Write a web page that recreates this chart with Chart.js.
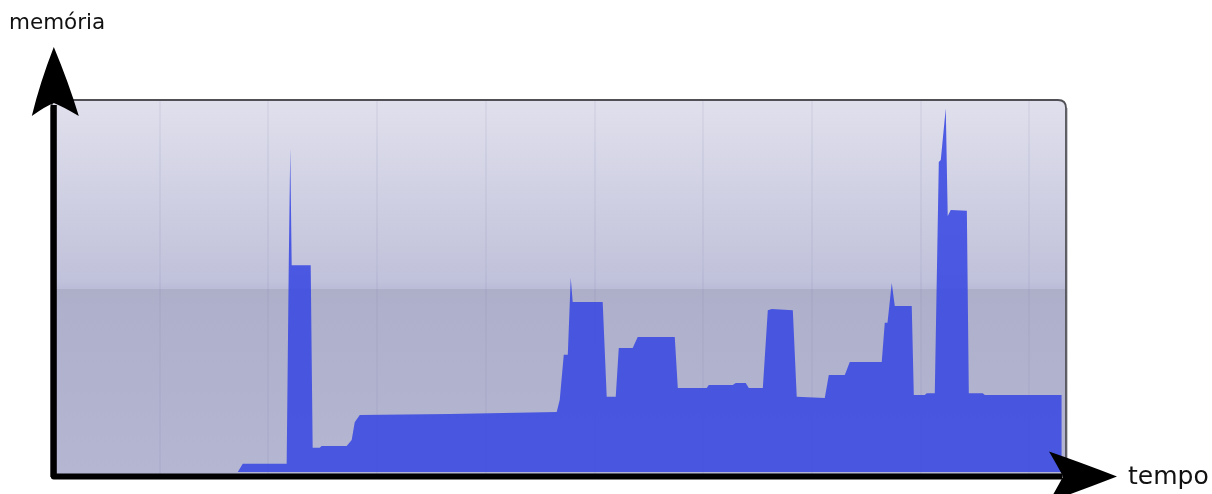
<!DOCTYPE html>
<html lang="pt">
<head>
<meta charset="utf-8">
<title>memória × tempo</title>
<script src="https://cdn.jsdelivr.net/npm/chart.js@4/dist/chart.umd.min.js"></script>
<style>
  html, body { margin: 0; padding: 0; background: #ffffff; }
  #wrap { width: 1212px; height: 494px; position: relative; }
</style>
</head>
<body>
<div id="wrap"><canvas id="grafico" width="1212" height="494"></canvas></div>
<script>
// Uso de memória ao longo do tempo (tempo em s, memória em % do topo da escala)
const tempos = [
  0, 17.18, 17.64, 21.50, 21.68, 21.87, 22.01, 22.14, 23.89, 24.07,
  24.72, 24.90, 27.20, 27.66, 27.94, 28.40, 36.68, 46.52, 46.80, 47.17,
  47.54, 47.81, 47.99, 50.75, 51.12, 51.95, 52.23, 53.51, 53.97, 57.38,
  57.66, 60.32, 60.51, 62.71, 62.99, 63.91, 64.19, 65.48, 65.94, 66.30,
  68.24, 68.60, 71.18, 71.55, 73.02, 73.48, 76.42, 76.70, 76.95, 77.34,
  77.62, 79.18, 79.37, 80.38, 80.56, 81.30, 81.67, 81.85, 82.31, 82.49,
  82.77, 84.25, 84.43, 85.71, 85.90, 92.98
];
const memoria = [
  0, 0, 2.2, 2.2, 2.2, 55.6, 87.1, 55.6, 55.6, 6.5,
  6.5, 7.0, 7.0, 8.6, 13.4, 15.3, 15.6, 16.1, 19.4, 31.5,
  31.5, 52.2, 45.7, 45.7, 20.2, 20.2, 33.3, 33.3, 36.3, 36.3,
  22.6, 22.6, 23.4, 23.4, 23.9, 23.9, 22.6, 22.6, 43.5, 43.8,
  43.5, 20.2, 19.9, 26.1, 26.1, 29.6, 29.6, 40.1, 40.1, 50.8,
  44.6, 44.6, 20.7, 20.7, 21.2, 21.2, 83.3, 83.9, 97.8, 68.8,
  70.4, 70.2, 21.2, 21.2, 20.7, 20.7
];
// Marcas verticais de referência no eixo do tempo
const marcasTempo = [10, 20, 30, 40, 50, 60, 70, 80, 90];
const rotuloY = 'memória';
const rotuloX = 'tempo';

const TEMPO_MAX = 93.37;
const MEMORIA_MAX = 100;

function contornoPainel(ctx, x0, y0, x1, y1, r) {
  ctx.beginPath();
  ctx.moveTo(x0 + r, y0);
  ctx.lineTo(x1 - r, y0);
  ctx.quadraticCurveTo(x1, y0, x1, y0 + r);
  ctx.lineTo(x1, y1);
  ctx.lineTo(x0, y1);
  ctx.lineTo(x0, y0 + r);
  ctx.quadraticCurveTo(x0, y0, x0 + r, y0);
  ctx.closePath();
}

// Painel de fundo arredondado com degradê e faixa mais escura
const painel = {
  id: 'painel',
  beforeDatasetsDraw(chart) {
    const { ctx, chartArea: a, scales } = chart;
    const r = 8;
    const x0 = a.left, x1 = a.right, y0 = a.top, y1 = a.bottom + 4;
    const faixa = scales.y.getPixelForValue(49.2);
    ctx.save();
    contornoPainel(ctx, x0, y0, x1, y1, r);
    ctx.save();
    ctx.clip();
    const g1 = ctx.createLinearGradient(0, y0, 0, faixa);
    g1.addColorStop(0, 'rgb(224,224,237)');
    g1.addColorStop(0.85, 'rgb(196,197,220)');
    g1.addColorStop(0.96, 'rgb(192,193,219)');
    g1.addColorStop(1, 'rgb(186,187,214)');
    ctx.fillStyle = g1;
    ctx.fillRect(x0, y0, x1 - x0, faixa - y0);
    const g2 = ctx.createLinearGradient(0, faixa, 0, y1);
    g2.addColorStop(0, 'rgb(173,174,200)');
    g2.addColorStop(0.1, 'rgb(175,176,203)');
    g2.addColorStop(1, 'rgb(180,182,210)');
    ctx.fillStyle = g2;
    ctx.fillRect(x0, faixa, x1 - x0, y1 - faixa);
    // linhas verticais suaves
    ctx.strokeStyle = 'rgba(120,122,165,0.09)';
    ctx.lineWidth = 2;
    marcasTempo.forEach(t => {
      const px = Math.round(scales.x.getPixelForValue(t));
      ctx.beginPath();
      ctx.moveTo(px, y0);
      ctx.lineTo(px, y1);
      ctx.stroke();
    });
    ctx.restore();
    // borda do painel
    contornoPainel(ctx, x0, y0, x1, y1, r);
    ctx.strokeStyle = 'rgb(80,80,86)';
    ctx.lineWidth = 1.8;
    ctx.stroke();
    ctx.strokeStyle = 'rgba(150,150,160,0.5)';
    ctx.lineWidth = 1;
    ctx.beginPath();
    ctx.moveTo(x1 + 1.5, y0 + r);
    ctx.lineTo(x1 + 1.5, y1);
    ctx.stroke();
    ctx.restore();
  }
};

// Eixos em preto com pontas de seta e rótulos
const eixos = {
  id: 'eixos',
  afterDraw(chart) {
    const { ctx, chartArea: a } = chart;
    const xv = a.left + 2.8;   // eixo vertical
    const yh = a.bottom + 4.6; // eixo horizontal
    ctx.save();
    ctx.strokeStyle = '#000';
    ctx.fillStyle = '#000';
    ctx.lineWidth = 6;
    ctx.lineJoin = 'round';
    ctx.beginPath();
    ctx.moveTo(xv, 105);
    ctx.lineTo(xv, yh);
    ctx.lineTo(1062, yh);
    ctx.stroke();

    // ponta superior
    const tipY = 47;
    ctx.beginPath();
    ctx.moveTo(xv, tipY);
    ctx.quadraticCurveTo(xv - 14, tipY + 36, xv - 22, 116);
    ctx.quadraticCurveTo(xv - 8, 106, xv, 103);
    ctx.quadraticCurveTo(xv + 8, 106, xv + 25, 116);
    ctx.quadraticCurveTo(xv + 15, tipY + 36, xv, tipY);
    ctx.closePath();
    ctx.fill();

    // ponta direita
    const tipX = 1117;
    ctx.beginPath();
    ctx.moveTo(tipX, yh);
    ctx.quadraticCurveTo(tipX - 36, yh - 14, 1049, yh - 25);
    ctx.quadraticCurveTo(1059, yh - 8, 1063, yh);
    ctx.quadraticCurveTo(1059, yh + 8, 1049, yh + 25);
    ctx.quadraticCurveTo(tipX - 36, yh + 14, tipX, yh);
    ctx.closePath();
    ctx.fill();

    ctx.fillStyle = '#111';
    ctx.textBaseline = 'alphabetic';
    ctx.font = '21.5px "DejaVu Sans", sans-serif';
    ctx.fillText(rotuloY, 9, 29);
    ctx.font = '25px "DejaVu Sans", sans-serif';
    ctx.fillText(rotuloX, 1128, 484);
    ctx.restore();
  }
};

const pontos = tempos.map((t, i) => ({ x: t, y: memoria[i] }));

new Chart(document.getElementById('grafico'), {
  type: 'line',
  data: {
    datasets: [{
      label: rotuloY,
      data: pontos,
      fill: 'origin',
      backgroundColor: 'rgba(55,70,226,0.86)',
      borderWidth: 0,
      pointRadius: 0,
      tension: 0
    }]
  },
  options: {
    responsive: false,
    animation: false,
    events: [],
    layout: { padding: { left: 51, right: 146, top: 100, bottom: 22 } },
    plugins: { legend: { display: false }, tooltip: { enabled: false }, title: { display: false } },
    scales: {
      x: { type: 'linear', display: false, min: 0, max: TEMPO_MAX },
      y: { type: 'linear', display: false, min: 0, max: MEMORIA_MAX }
    }
  },
  plugins: [painel, eixos]
});
</script>
</body>
</html>
